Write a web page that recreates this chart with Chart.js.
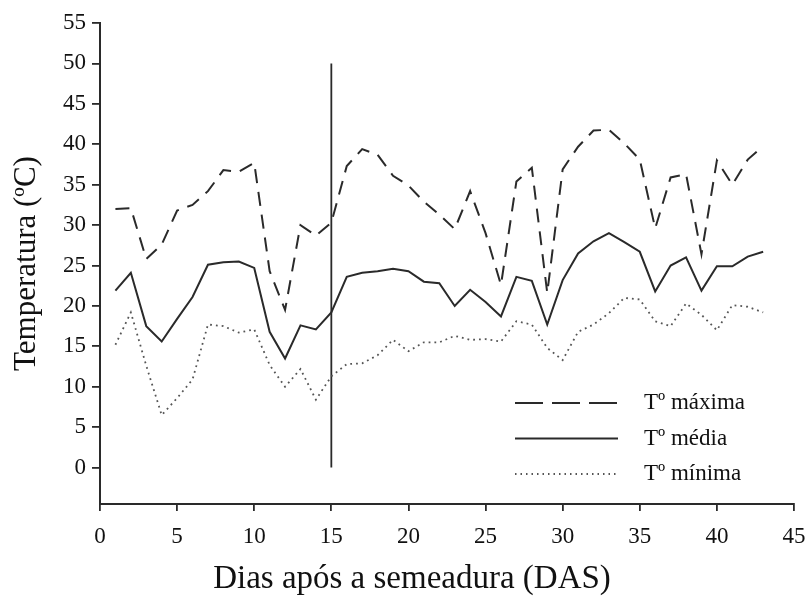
<!DOCTYPE html>
<html>
<head>
<meta charset="utf-8">
<script src="https://cdn.jsdelivr.net/npm/chart.js@4.4.1/dist/chart.umd.min.js"></script>
<style>
  html, body { margin: 0; padding: 0; background: #fff; }
  #wrap { width: 806px; height: 597px; }
</style>
</head>
<body>
<div id="wrap"><canvas id="chart1"></canvas></div>
<script>
// Days after sowing
const days = [1, 2, 3, 4, 5, 6, 7, 8, 9, 10, 11, 12, 13, 14, 15, 16, 17, 18, 19, 20, 21, 22,
              23, 24, 25, 26, 27, 28, 29, 30, 31, 32, 33, 34, 35, 36, 37, 38, 39, 40, 41, 42, 43];

// Temperatures (ºC)
const tMax = [32.0, 32.1, 25.8, 27.6, 31.8, 32.5, 34.2, 36.8, 36.6, 37.7, 24.3, 19.5, 30.0, 28.7, 30.3,
              37.3, 39.4, 38.7, 36.1, 34.9, 32.9, 31.3, 29.5, 34.2, 29.0, 22.6, 35.4, 37.1, 21.6, 36.9,
              39.7, 41.7, 41.8, 40.1, 38.1, 29.6, 35.9, 36.3, 26.4, 38.0, 35.0, 38.1, 39.8];
const tMed = [21.9, 24.1, 17.5, 15.6, 18.4, 21.1, 25.1, 25.4, 25.5, 24.7, 16.8, 13.5, 17.6, 17.1, 19.2,
              23.6, 24.1, 24.3, 24.6, 24.3, 23.0, 22.8, 20.0, 22.0, 20.5, 18.7, 23.6, 23.1, 17.7, 23.2,
              26.5, 28.0, 29.0, 27.9, 26.7, 21.8, 25.0, 26.0, 21.9, 24.9, 24.9, 26.1, 26.7];
const tMin = [15.2, 19.2, 12.6, 6.5, 8.6, 10.9, 17.7, 17.5, 16.7, 17.1, 12.7, 10.0, 12.2, 8.4, 11.3,
              12.8, 12.9, 13.9, 15.8, 14.4, 15.5, 15.5, 16.3, 15.8, 15.9, 15.6, 18.1, 17.7, 14.8, 13.3,
              16.8, 17.7, 19.1, 21.0, 20.8, 18.1, 17.5, 20.3, 18.9, 17.0, 20.1, 19.9, 19.2];

// Vertical marker at 15 DAS
const markerX = [15, 15];
const markerY = [0, 50];

const xTicks = [0, 5, 10, 15, 20, 25, 30, 35, 40, 45];
const yTicks = [0, 5, 10, 15, 20, 25, 30, 35, 40, 45, 50, 55];

const serif = "'Liberation Serif', 'Times New Roman', serif";
const ink = '#2a2a2a';
const xTitle = 'Dias após a semeadura (DAS)';

function toPoints(xs, ys) {
    return xs.map((x, i) => ({ x: x, y: ys[i] }));
}

// Legend inside the plot (lower right) and the x axis title, which sits left of centre
const extras = {
    id: 'extras',
    afterDraw(chart) {
        const ctx = chart.ctx;
        const rows = chart.data.datasets.filter(ds => ds.label);
        ctx.save();
        rows.forEach((ds, i) => {
            const y = 403 + i * 35.5;
            ctx.strokeStyle = ds.borderColor;
            ctx.lineWidth = ds.borderWidth;
            ctx.setLineDash(ds.legendDash || []);
            ctx.beginPath();
            ctx.moveTo(515, y);
            ctx.lineTo(618, y);
            ctx.stroke();
            ctx.setLineDash([]);
            ctx.fillStyle = '#111';
            ctx.font = '23px ' + serif;
            ctx.textBaseline = 'middle';
            ctx.textAlign = 'left';
            ctx.fillText(ds.label, 644, y);
        });
        ctx.font = '33px ' + serif;
        ctx.textAlign = 'center';
        ctx.textBaseline = 'middle';
        ctx.fillStyle = '#111';
        ctx.fillText(xTitle, 412, 579);
        ctx.restore();
    }
};

new Chart(document.getElementById('chart1').getContext('2d'), {
    type: 'line',
    data: {
        datasets: [
            {
                label: 'Tº máxima',
                data: toPoints(days, tMax),
                borderColor: ink,
                borderWidth: 2,
                borderDash: [14, 9],
                legendDash: [28, 9],
                pointRadius: 0,
                tension: 0
            },
            {
                label: 'Tº média',
                data: toPoints(days, tMed),
                borderColor: ink,
                borderWidth: 2,
                pointRadius: 0,
                tension: 0
            },
            {
                label: 'Tº mínima',
                data: toPoints(days, tMin),
                borderColor: '#555',
                borderWidth: 1.8,
                borderDash: [1.8, 4],
                legendDash: [1.5, 4],
                pointRadius: 0,
                tension: 0
            },
            {
                label: '',
                data: toPoints(markerX, markerY),
                borderColor: ink,
                borderWidth: 1.8,
                pointRadius: 0
            }
        ]
    },
    options: {
        responsive: true,
        maintainAspectRatio: false,
        animation: false,
        layout: { padding: { top: 23, right: 12, left: 0, bottom: 0 } },
        plugins: {
            legend: { display: false },
            tooltip: { enabled: false }
        },
        scales: {
            x: {
                type: 'linear',
                min: 0,
                max: 45,
                afterBuildTicks: axis => { axis.ticks = xTicks.map(v => ({ value: v })); },
                afterFit: axis => {
                    axis.height = 93;
                    axis.paddingRight = 0;
                    axis.paddingLeft = 0;
                },
                ticks: { color: '#111', font: { family: serif, size: 23 }, padding: 12, maxRotation: 0 },
                grid: { drawOnChartArea: false, tickLength: 7, color: ink, lineWidth: 1.8 },
                border: { display: true, color: ink, width: 2 },
                title: { display: false }
            },
            y: {
                min: -4.5,
                max: 55,
                afterBuildTicks: axis => { axis.ticks = yTicks.map(v => ({ value: v })); },
                afterFit: axis => { axis.width = 100; },
                ticks: { color: '#111', font: { family: serif, size: 23 }, padding: 6 },
                grid: { drawOnChartArea: false, tickLength: 8, color: ink, lineWidth: 1.8 },
                border: { display: true, color: ink, width: 2 },
                title: {
                    display: true,
                    text: 'Temperatura (ºC)',
                    color: '#111',
                    font: { family: serif, size: 31, lineHeight: 1 },
                    padding: { top: 11, bottom: 0 }
                }
            }
        }
    },
    plugins: [extras]
});
</script>
</body>
</html>
